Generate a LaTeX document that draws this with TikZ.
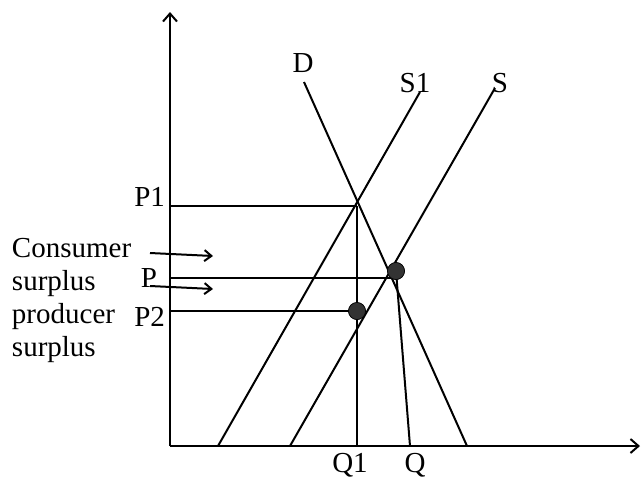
\documentclass[tikz,border=0pt]{standalone}
\usepackage{fontspec}
\setmainfont{Liberation Serif}
\usetikzlibrary{arrows.meta}
\begin{document}
\begin{tikzpicture}[x=1pt,y=-1pt, line width=2pt, line cap=butt,
  lbl/.style={font=\fontsize{29}{33}\selectfont, inner sep=0pt},
  dot/.style={circle, fill=black!80, draw=black, line width=0.6pt, minimum size=17pt, inner sep=0pt},
  axis/.style={-{Straight Barb[length=8pt,width=14pt]}},
  pointer/.style={-{Straight Barb[length=7pt,width=11pt]}}]
\useasboundingbox (0,0) rectangle (641,480);
% axes
\coordinate (O) at (170,446);
\coordinate (Ytop) at (170,12);
\coordinate (Xend) at (640,446);
\draw[axis] (O) -- (Ytop);
\draw[axis] (O) -- (Xend);
% curves
\coordinate (Dtop) at (304,82);
\coordinate (Dbot) at (467,446);
\coordinate (S1top) at (420,92);
\coordinate (S1bot) at (218,446);
\coordinate (Stop) at (495,88);
\coordinate (Sbot) at (290,446);
\draw (Dtop) -- (Dbot);
\draw (S1top) -- (S1bot);
\draw (Stop) -- (Sbot);
% guide lines
\coordinate (P1y) at (170,206);
\coordinate (E1) at (357,206);
\coordinate (Q1x) at (357,446);
\coordinate (Py) at (170,278);
\coordinate (Pend) at (392,278);
\coordinate (P2y) at (170,311);
\coordinate (Qx) at (410,446);
\draw (P1y) -- (E1);
\draw (E1) -- (Q1x);
\draw (Py) -- (Pend);
\node[dot] (eqP2) at (357,311) {};
\draw (P2y) -- (eqP2.center);
\node[dot] (eqP) at (396,271) {};
\draw (eqP.center) -- (Qx);
\node[dot] at (eqP2) {};
\node[dot] at (eqP) {};
% labels
\node[lbl, anchor=base] (lD) at (303,72) {D};
\node[lbl, anchor=base] (lS1) at (415,92) {S1};
\node[lbl, anchor=base] (lS) at (500,92) {S};
\node[lbl, anchor=base] (lQ1) at (350,472) {Q1};
\node[lbl, anchor=base] (lQ) at (415,472) {Q};
\node[lbl, anchor=base east] (lP1) at (166,206) {P1};
\node[lbl, anchor=base east] (lP) at (158,287) {P};
\node[lbl, anchor=base east] (lP2) at (166,326) {P2};
\node[lbl, anchor=base west] (t1) at (11,257) {Consumer};
\node[lbl, anchor=base west] (t2) at (11,290) {surplus};
\node[lbl, anchor=base west] (t3) at (11,323) {producer};
\node[lbl, anchor=base west] (t4) at (11,356) {surplus};
% pointers
\coordinate (a1s) at (150,253);
\coordinate (a1e) at (213,256);
\coordinate (a2s) at (150,286);
\coordinate (a2e) at (213,289);
\draw[pointer] (a1s) -- (a1e);
\draw[pointer] (a2s) -- (a2e);
\end{tikzpicture}
\end{document}
